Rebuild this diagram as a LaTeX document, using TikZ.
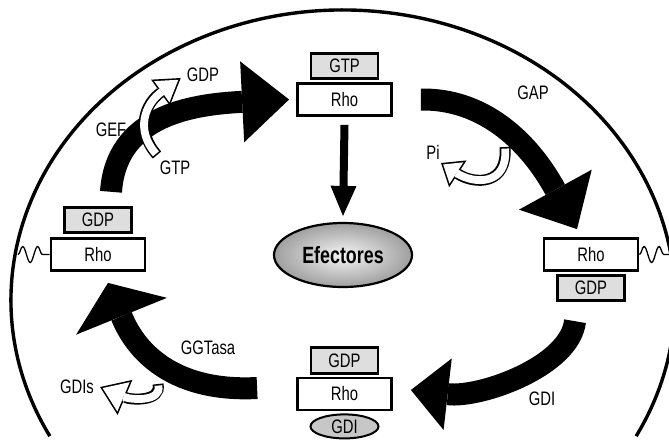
\documentclass[tikz,border=0pt]{standalone}
\usepackage{fontspec}
\setmainfont{Liberation Sans}[FakeStretch=0.76]
\usetikzlibrary{positioning,arrows.meta,shapes.geometric,decorations.pathmorphing}
\definecolor{boxgray}{gray}{0.87}
\definecolor{gdigray}{gray}{0.78}

\begin{document}
\begin{tikzpicture}[x=1pt,y=-1pt,
    txt/.style={font=\fontsize{19.5}{21}\selectfont, inner sep=0pt},
    rhobox/.style={draw, line width=2.8pt, fill=white, minimum width=94pt, minimum height=32pt, inner sep=0pt, font=\fontsize{19.5}{21}\selectfont},
    nucbox/.style={rhobox, fill=boxgray, minimum width=67pt, minimum height=25.5pt},
    bigarrow/.style={line width=22pt},
    lipid/.style={line width=1.3pt, decorate, decoration={snake, amplitude=8pt, segment length=15pt}},
    hollowrim/.style={line width=11pt},
    hollowcore/.style={white, line width=7.8pt, shorten <=1.6pt, shorten >=#1}]
\useasboundingbox (0,0) rectangle (669,440);

% proteinas
\node[rhobox] (rhoT) at (344.5,99.5) {Rho};
\node[nucbox, above=2pt of rhoT] (gtpT) {GTP};
\node[rhobox] (rhoL) at (98,254.5) {Rho};
\node[nucbox, above=3pt of rhoL] (gdpL) {GDP};
\node[rhobox] (rhoR) at (591,254.5) {Rho};
\node[nucbox, below=2pt of rhoR] (gdpR) {GDP};
\node[rhobox] (rhoB) at (344.5,394) {Rho};
\node[nucbox, above=2pt of rhoB] (gdpB) {GDP};
\node[draw, ellipse, line width=2pt, fill=gdigray, minimum width=68pt, minimum height=24pt, inner sep=0pt, font=\fontsize{19.5}{21}\selectfont, below=2pt of rhoB] (gdiB) {GDI};
\node[draw, ellipse, line width=2.2pt, minimum width=138pt, minimum height=64pt, inner color=gray!8, outer color=gray!75, font=\bfseries\fontsize{23.5}{25}\selectfont] (efect) at (343,255) {Efectores};

% etiquetas
\node[txt] (gdpLbl) at (203,75) {GDP};
\node[txt] (gefLbl) at (111,130) {GEF};
\node[txt] (gtpLbl) at (175,168) {GTP};
\node[txt] (gapLbl) at (533,93) {GAP};
\node[txt] (piLbl) at (433,152) {Pi};
\node[txt] (ggtLbl) at (208,348) {GGTasa};
\node[txt] (gdisLbl) at (77,387) {GDIs};
\node[txt] (gdiLbl) at (542,399) {GDI};

% membrana
\draw[line width=3.4pt] (343,300) ++(152:332 and 290) arc[start angle=152, end angle=388, x radius=332, y radius=290];
\coordinate (memL) at (18,254.5);
\coordinate (memR) at (670,254.5);
\draw[lipid] (memL) -- (rhoL.west);
\draw[lipid] (rhoR.east) -- (memR);

% ciclo
\draw[bigarrow, -{Triangle[length=47pt,width=81pt,line width=0pt]}] ([xshift=13pt,yshift=14pt]gdpL.north) .. controls +(5,-75) and +(-100,5) .. ([xshift=-7pt]rhoT.west);
\draw[bigarrow, -{Triangle[length=45pt,width=83pt,line width=0pt]}] ([xshift=28pt]rhoT.east) .. controls +(60,-1) and +(-50,-91) .. ([xshift=-14pt,yshift=8pt]rhoR.north);
\draw[bigarrow, -{Triangle[length=37pt,width=72pt,line width=0pt]}] ([xshift=-16pt,yshift=-19pt]gdpR.south) .. controls +(-5,45) and +(70,8) .. ([xshift=18pt,yshift=4pt]rhoB.east);
\draw[bigarrow, -{Triangle[length=36pt,width=98pt,line width=0pt]}] ([xshift=-39pt,yshift=6pt]rhoB.west) .. controls +(-78,4) and +(30,74) .. ([xshift=10pt,yshift=-11pt]rhoL.south);
\draw[line width=8pt, -{Triangle[length=30pt,width=26pt,line width=0pt]}] ([yshift=-8pt]rhoT.south) -- ([yshift=6pt]efect.north);

% flechas blancas
\coordinate (gefTail) at (157,155);
\coordinate (piTail) at (505,147);
\coordinate (gdisTail) at (158,384);
\draw[hollowrim, -{Triangle[length=25pt,width=32pt,line width=0pt]}] (gefTail) .. controls +(-22,-25) and +(-36,26) .. ([xshift=-6pt,yshift=-3pt]gdpLbl.west);
\draw[hollowcore=3pt, -{Triangle[length=20.4pt,width=26.1pt,line width=0pt]}] (gefTail) .. controls +(-22,-25) and +(-36,26) .. ([xshift=-6pt,yshift=-3pt]gdpLbl.west);
\draw[hollowrim, -{Triangle[length=20pt,width=32pt,line width=0pt]}] (piTail) .. controls +(3,38) and +(34,22) .. ([xshift=8pt,yshift=-11pt]piLbl.center);
\draw[hollowcore=2.6pt, -{Triangle[length=15.8pt,width=25.3pt,line width=0pt]}] (piTail) .. controls +(3,38) and +(34,22) .. ([xshift=8pt,yshift=-11pt]piLbl.center);
\draw[hollowrim, -{Triangle[length=27pt,width=38pt,line width=0pt]}] (gdisTail) .. controls +(4,18) and +(31,13) .. ([xshift=6pt]gdisLbl.east);
\draw[hollowcore=2.8pt, -{Triangle[length=22.6pt,width=31.8pt,line width=0pt]}] (gdisTail) .. controls +(4,18) and +(31,13) .. ([xshift=6pt]gdisLbl.east);
\end{tikzpicture}
\end{document}
